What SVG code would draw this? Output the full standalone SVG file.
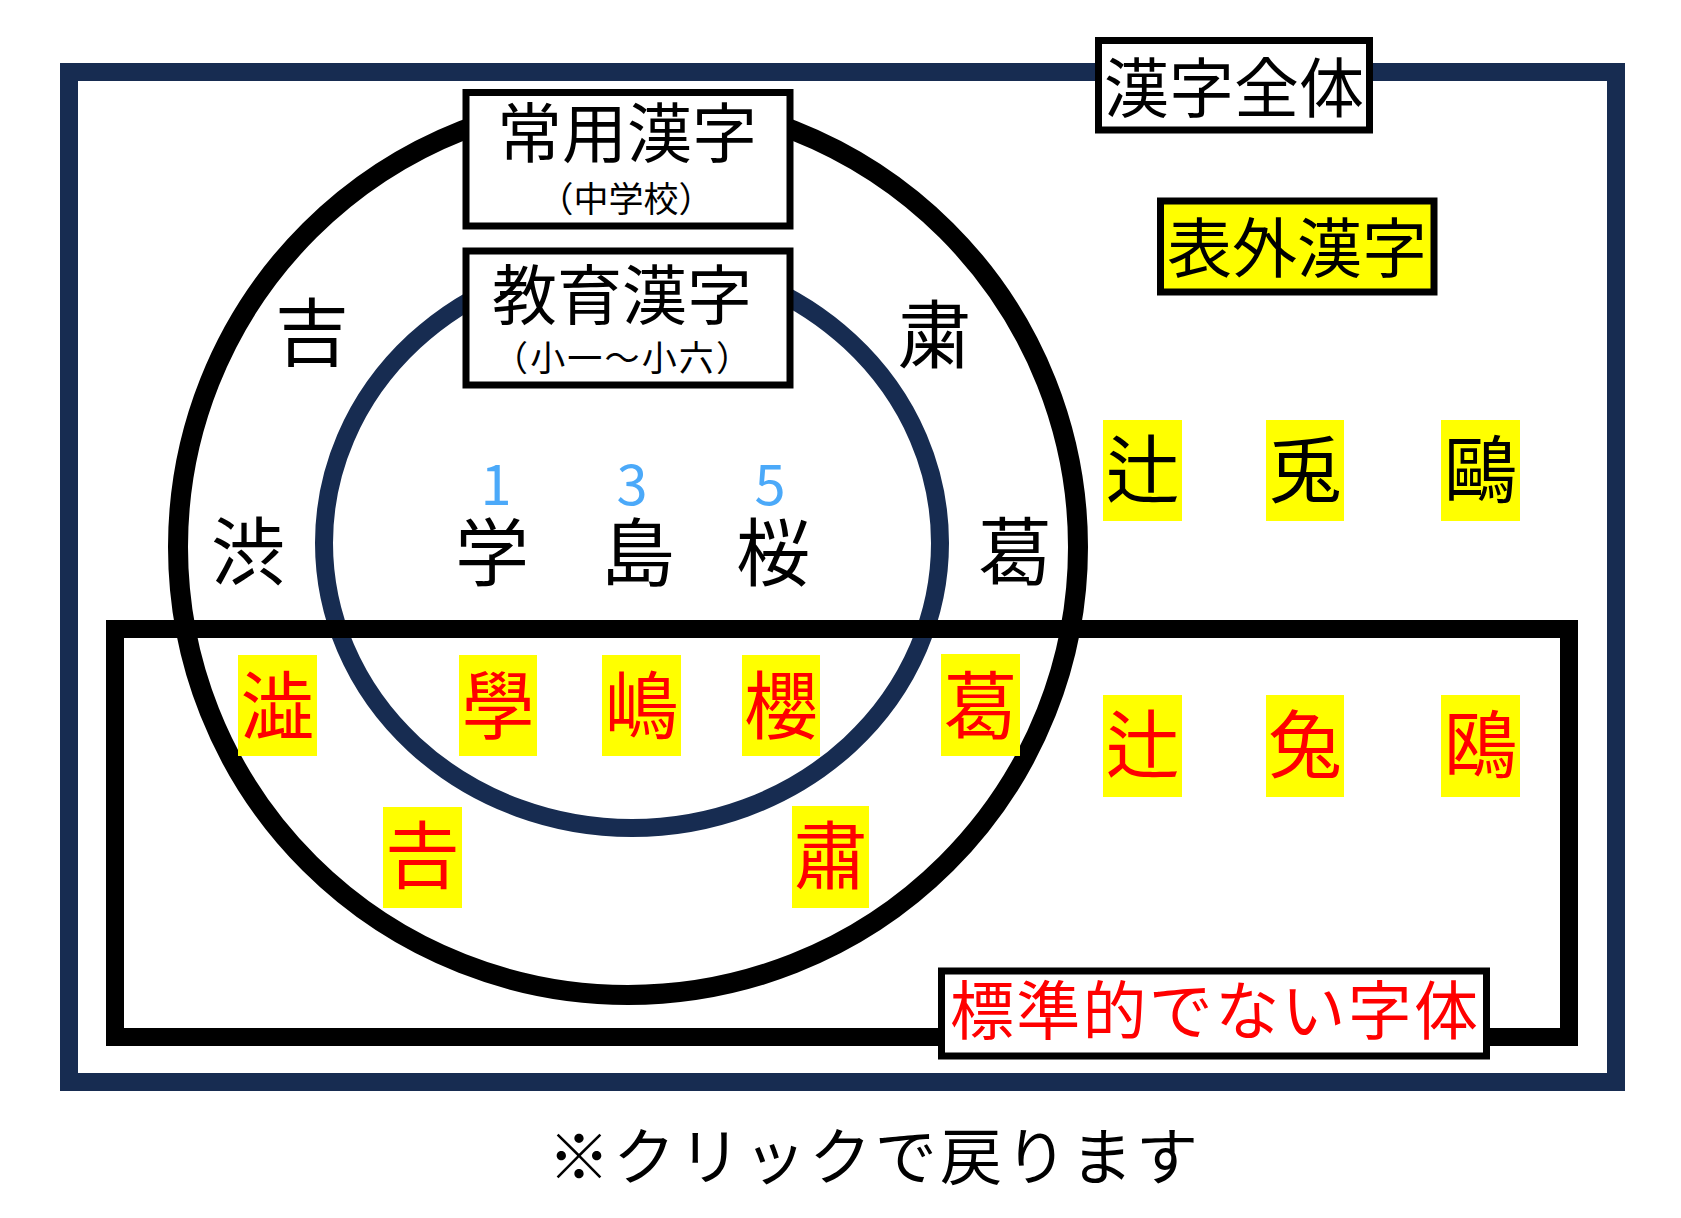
<svg xmlns="http://www.w3.org/2000/svg" width="1681" height="1218" viewBox="0 0 1681 1218">
<style>
text{font-family:"Noto Sans CJK JP","Noto Sans CJK SC",sans-serif;text-anchor:middle}
.box{fill:#fff;stroke:#000;stroke-width:7}
.ybox{fill:#ffff00;stroke:#000;stroke-width:7}
.hl{fill:#ffff00}
.big{font-size:65px;fill:#000}
.sub{font-size:35px;fill:#000}
.k{font-size:74px;fill:#000}
.r{font-size:74px;fill:#ff0000}
.num{font-size:56px;fill:#4ba9f9}
</style>
<rect width="1681" height="1218" fill="#fff"/>
<g id="all-kanji-frame">
<rect x="69" y="72" width="1547" height="1010" fill="none" stroke="#172c51" stroke-width="18"/>
</g>
<g id="joyo-circle">
<ellipse cx="628" cy="547" rx="450" ry="448" fill="none" stroke="#000" stroke-width="20"/>
</g>
<g id="kyoiku-circle">
<ellipse cx="632" cy="543" rx="308" ry="285" fill="none" stroke="#172c51" stroke-width="18"/>
</g>
<g id="nonstandard-frame">
<rect x="115" y="629" width="1454" height="408" fill="none" stroke="#000" stroke-width="18"/>
</g>
<g id="label-all">
<rect class="box" x="1098.5" y="40.5" width="271" height="89.5"/>
<text class="big" x="1234" y="112" font-size="66">漢字全体</text>
</g>
<g id="label-joyo">
<rect class="box" x="466" y="92.5" width="324" height="133.5"/>
<text class="big" x="627" y="157">常用漢字</text>
<text class="sub" x="626" y="212">（中学校）</text>
</g>
<g id="label-kyoiku">
<rect class="box" x="466" y="251" width="324" height="134"/>
<text class="big" x="622" y="319">教育漢字</text>
<text class="sub" x="622" y="371" textLength="258" lengthAdjust="spacing">（小一～小六）</text>
</g>
<g id="label-hyogai">
<rect class="ybox" x="1160.5" y="201" width="273.5" height="91"/>
<text class="big" x="1297" y="272">表外漢字</text>
</g>
<g id="label-nonstandard">
<rect class="box" x="941.5" y="971" width="545" height="85"/>
<text x="1214" y="1034" font-size="64" fill="#ff0000" textLength="528" lengthAdjust="spacing">標準的でない字体</text>
</g>
<g id="kyoiku-chars">
<text class="num" x="496" y="505">1</text>
<text class="num" x="632" y="505">3</text>
<text class="num" x="770" y="505">5</text>
<text class="k" x="492" y="580">学</text>
<text class="k" x="638" y="580">島</text>
<text class="k" x="773" y="580">桜</text>
</g>
<g id="joyo-chars">
<text class="k" x="312" y="360">吉</text>
<text class="k" x="935" y="362">粛</text>
<text class="k" x="248" y="579">渋</text>
<text class="k" x="1015" y="579">葛</text>
</g>
<g id="hyogai-chars">
<rect class="hl" x="1103" y="420" width="79" height="101"/>
<rect class="hl" x="1266" y="420" width="78" height="101"/>
<rect class="hl" x="1441" y="420" width="79" height="101"/>
<text class="k" x="1142.5" y="497">辻</text>
<text class="k" x="1305" y="497">兎</text>
<text class="k" x="1480.5" y="497">鷗</text>
</g>
<g id="nonstandard-chars">
<rect class="hl" x="238" y="655" width="79" height="101"/>
<rect class="hl" x="459" y="655" width="78" height="101"/>
<rect class="hl" x="602" y="655" width="79" height="101"/>
<rect class="hl" x="742" y="655" width="78" height="101"/>
<rect class="hl" x="941" y="654" width="79" height="102"/>
<rect class="hl" x="383" y="807" width="79" height="101"/>
<rect class="hl" x="792" y="806" width="77" height="102"/>
<rect class="hl" x="1103" y="695" width="79" height="102"/>
<rect class="hl" x="1266" y="695" width="78" height="102"/>
<rect class="hl" x="1441" y="695" width="79" height="102"/>
<text class="r" x="277.5" y="733">澁</text>
<text class="r" x="498" y="733">學</text>
<text class="r" x="641.5" y="733">嶋</text>
<text class="r" x="781" y="733">櫻</text>
<text class="r" x="980.5" y="733">葛</text>
<text class="r" x="422.5" y="883">𠮷</text>
<text class="r" x="830.5" y="883">肅</text>
<text class="r" x="1142.5" y="772">辻</text>
<text class="r" x="1305" y="772">兔</text>
<text class="r" x="1480.5" y="772">鴎</text>
</g>
<g id="footer">
<text x="873" y="1180" font-size="62" fill="#000" textLength="650" lengthAdjust="spacing">※クリックで戻ります</text>
</g>
</svg>
